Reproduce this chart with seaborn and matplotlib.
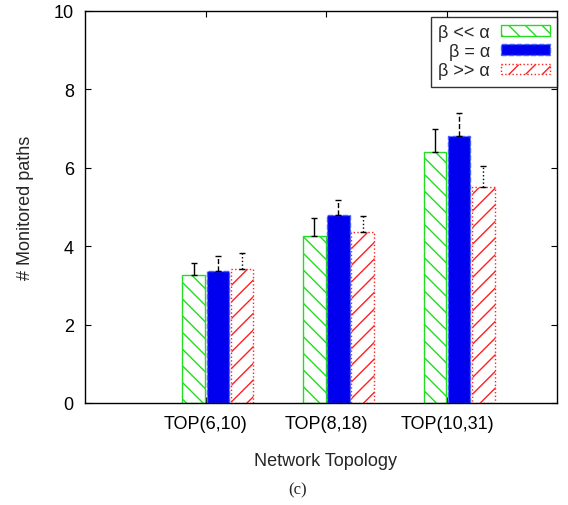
import numpy as np
import pandas as pd
import seaborn as sns
import matplotlib.pyplot as plt
from matplotlib.patches import Patch

# data
topologies = ["TOP(6,10)", "TOP(8,18)", "TOP(10,31)"]
scenarios = ["β << α", "β = α", "β >> α"]
mean_low = [3.27, 4.26, 6.40]
mean_eq = [3.36, 4.80, 6.82]
mean_high = [3.41, 4.35, 5.50]
top_low = [3.56, 4.72, 7.00]
top_eq = [3.74, 5.18, 7.40]
top_high = [3.82, 4.76, 6.04]

means = [mean_low, mean_eq, mean_high]
tops = [top_low, top_eq, top_high]

rows = []
for s, vals in zip(scenarios, means):
    for t, v in zip(topologies, vals):
        rows.append({"topology": t, "scenario": s, "paths": v})
df = pd.DataFrame(rows)

sns.set_style("ticks")
plt.rcParams['font.family'] = ['Liberation Sans', 'DejaVu Sans']

fig = plt.figure(figsize=(5.68, 5.06), dpi=100)
ax = fig.add_axes([0.1496, 0.2016, 0.831, 0.7747])

sns.barplot(data=df, x="topology", y="paths", hue="scenario",
            order=topologies, hue_order=scenarios, errorbar=None,
            width=0.6, gap=0.075, ax=ax, legend=False)

# gnuplot-like fill styles
styles = [
    dict(facecolor="white", edgecolor="#22dd22", hatch="\\\\", linestyle="-"),
    dict(facecolor="#0000ee", edgecolor="#4060ff", hatch=None, linestyle="--"),
    dict(facecolor="white", edgecolor="#ff2020", hatch="//", linestyle=":"),
]
err_ls = ["-", "--", ":"]

for cont, st, mv, tv, ls in zip(ax.containers, styles, means, tops, err_ls):
    xs = []
    for p in cont.patches:
        p.set_facecolor(st["facecolor"])
        p.set_edgecolor(st["edgecolor"])
        p.set_linestyle(st["linestyle"])
        p.set_linewidth(1.0)
        if st["hatch"]:
            p.set_hatch(st["hatch"])
        xs.append(p.get_x() + p.get_width() / 2)
    up = np.array(tv) - np.array(mv)
    eb = ax.errorbar(xs, mv, yerr=[np.zeros_like(up), up], fmt="none",
                     ecolor="black", elinewidth=1.0, capsize=2.5, capthick=1.0,
                     zorder=1)
    eb[2][0].set_linestyle(ls)

ax.set_ylim(0, 10)
ax.set_yticks([0, 2, 4, 6, 8, 10])
ax.set_xlim(-1.1, 2.81)
ax.set_xticks([-0.1, 0.9, 1.9])
ax.set_xticklabels(topologies)
ax.tick_params(direction="in", length=4, width=0.8, labelsize=13,
               top=True, right=True, colors="black")
ax.tick_params(axis="y", pad=8)
ax.tick_params(axis="x", pad=9)
for sp in ax.spines.values():
    sp.set_linewidth(1.0)
    sp.set_color("black")

ax.set_xlabel("Network Topology", fontsize=13)
ax.set_ylabel("# Monitored paths", fontsize=13)
ax.xaxis.set_label_coords(0.51, -0.125)
ax.yaxis.set_label_coords(-0.108, 0.5)

handles = [Patch(facecolor=st["facecolor"], edgecolor=st["edgecolor"],
                 hatch=st["hatch"], linestyle=st["linestyle"]) for st in styles]
leg = ax.legend(handles, scenarios, loc="upper right", markerfirst=False,
                bbox_to_anchor=(1.0, 0.985), borderaxespad=0,
                fontsize=13, frameon=True, fancybox=False, edgecolor="black",
                handlelength=2.7, handleheight=0.55,
                labelspacing=0.12, borderpad=0.4, handletextpad=0.6)
leg.get_frame().set_linewidth(1.0)
for t in leg.get_texts():
    t.set_ha("right")

fig.text(0.523, 0.031, "(c)", family="Liberation Serif", fontsize=12,
         ha="center", va="center")

fig.savefig("out.png", dpi=100)
